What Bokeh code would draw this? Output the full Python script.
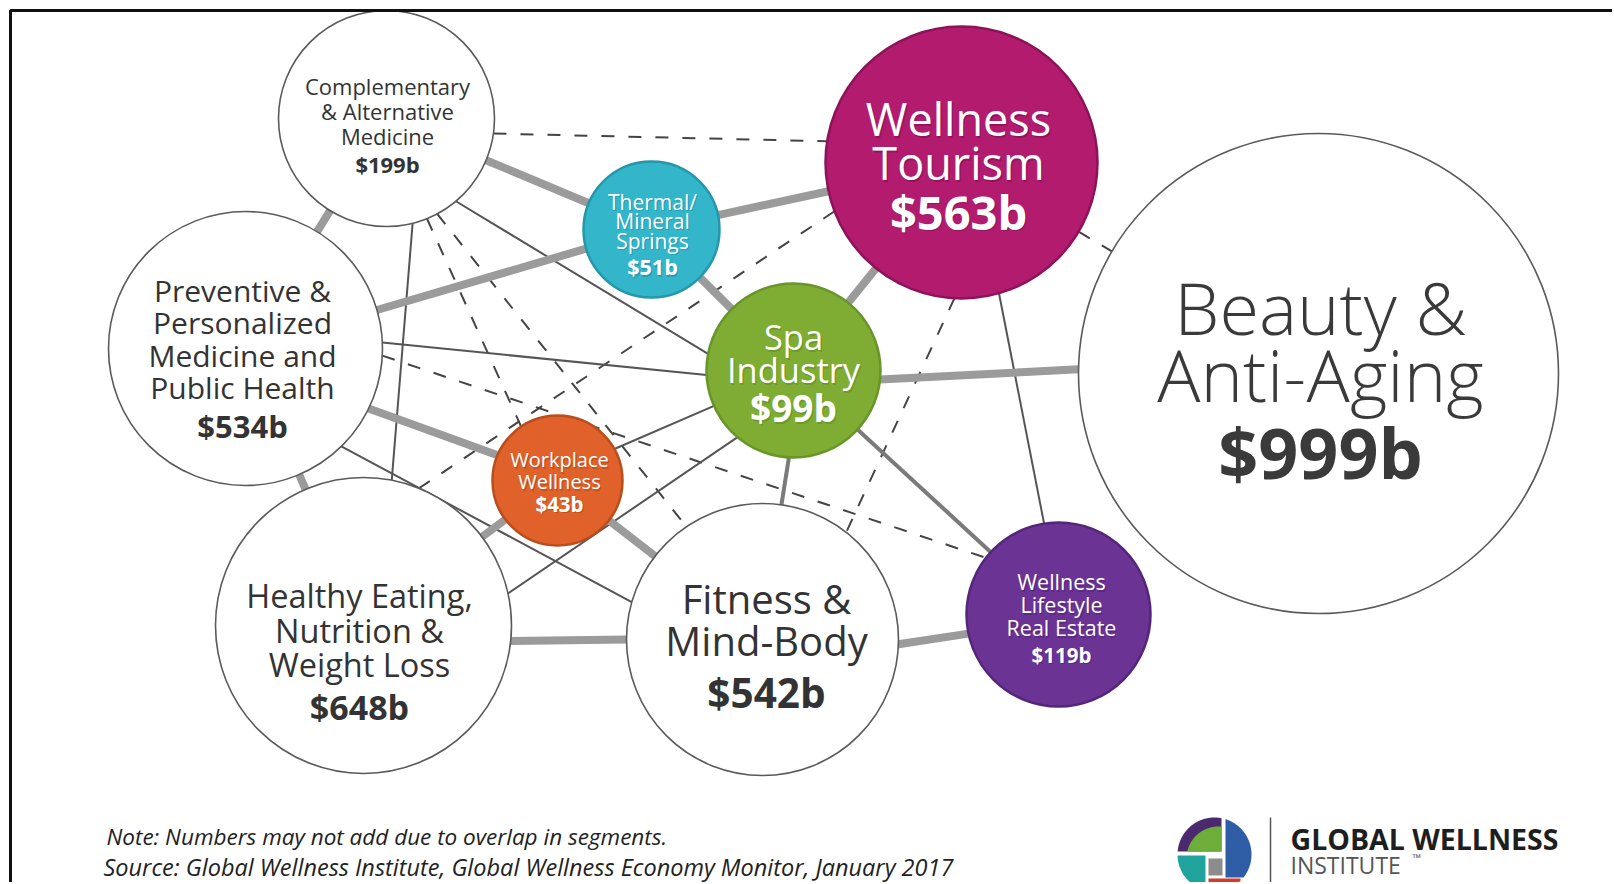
import numpy as np
from bokeh.plotting import figure
from bokeh.models import Range1d
from bokeh.core.properties import value
from bokeh.embed import file_html
from bokeh.resources import INLINE

# ---------------- data ----------------
segment_keys = ["CAM", "PPM", "HEN", "FMB", "WLRE", "BAA", "WT", "SPA", "TMS", "WW"]
segment_labels = [
    ["Complementary", "& Alternative", "Medicine"],
    ["Preventive &", "Personalized", "Medicine and", "Public Health"],
    ["Healthy Eating,", "Nutrition &", "Weight Loss"],
    ["Fitness &", "Mind-Body"],
    ["Wellness", "Lifestyle", "Real Estate"],
    ["Beauty &", "Anti-Aging"],
    ["Wellness", "Tourism"],
    ["Spa", "Industry"],
    ["Thermal/", "Mineral", "Springs"],
    ["Workplace", "Wellness"],
]
market_size_bn = [199, 534, 648, 542, 119, 999, 563, 99, 51, 43]

strong_links = [("CAM", "PPM"), ("CAM", "TMS"), ("TMS", "WT"), ("TMS", "SPA"),
                ("PPM", "TMS"), ("WT", "SPA"), ("SPA", "BAA"), ("PPM", "WW"),
                ("PPM", "HEN"), ("WW", "HEN"), ("WW", "FMB"), ("HEN", "FMB"),
                ("FMB", "WLRE")]
moderate_links = [("SPA", "FMB"), ("SPA", "WLRE")]
weak_links = [("CAM", "SPA"), ("CAM", "HEN"), ("PPM", "SPA"), ("PPM", "FMB"),
              ("HEN", "SPA"), ("WW", "SPA"), ("WT", "WLRE")]
potential_links = [("CAM", "WT"), ("CAM", "WW"), ("CAM", "FMB"), ("PPM", "WLRE"),
                   ("HEN", "WT"), ("WT", "FMB"), ("WT", "BAA")]

note_text = "Note: Numbers may not add due to overlap in segments."
source_text = "Source: Global Wellness Institute, Global Wellness Economy Monitor, January 2017"
org_name = ["GLOBAL WELLNESS", "INSTITUTE", "\u2122"]

# ---------------- layout (page pixel space) ----------------
W, H = 1612, 882
node_pos = {
    "CAM": (386, 118, 108), "PPM": (245, 348, 137), "HEN": (363, 625, 148),
    "FMB": (762, 639, 136), "WLRE": (1058, 614, 92), "BAA": (1318, 373, 240),
    "WT": (961, 162, 136), "SPA": (793, 370, 87), "TMS": (651, 229, 68),
    "WW": (557, 480, 65),
}
node_style = {
    "CAM": ("white", "#5a5a5a", "#333333"), "PPM": ("white", "#5a5a5a", "#333333"),
    "HEN": ("white", "#5a5a5a", "#333333"), "FMB": ("white", "#5a5a5a", "#333333"),
    "BAA": ("white", "#5a5a5a", "#3a3a3a"),
    "WLRE": ("#6B3394", "#54267A", "white"), "WT": ("#B31B6F", "#8C1357", "white"),
    "SPA": ("#7FAD33", "#67952A", "white"), "TMS": ("#33B6CA", "#2497AA", "white"),
    "WW": ("#E0622A", "#BA4D1C", "white"),
}
# (label size, value size, line offsets, value offset, dx)
text_layout = {
    "CAM": (22, 22, [-33, -8, 17], 45, 1),
    "PPM": (30, 31, [-58, -26, 7, 39], 77, -3),
    "HEN": (32.5, 34, [-30, 5, 39], 81, -4),
    "FMB": (40, 40.5, [-41, 1], 53, 4),
    "WLRE": (21.5, 20.5, [-33, -10, 13], 40, 3),
    "BAA": (72, 70, [-67, 0], 78, 2),
    "WT": (45, 47, [-44, 0], 49, -3),
    "SPA": (34.5, 37, [-34, -1], 37, 0),
    "TMS": (21, 21.5, [-28, -9, 11], 37, 1),
    "WW": (20, 20.5, [-21, 1], 23, 2),
}
anchor_deg = {
    ("SPA", "BAA"): (6, 181), ("PPM", "WW"): (26, None), ("HEN", "FMB"): (6, 180),
    ("FMB", "WLRE"): (2, 168), ("SPA", "FMB"): (93, -82),
    ("CAM", "SPA"): (50, 191), ("CAM", "HEN"): (76, -79), ("PPM", "SPA"): (-2.5, 177),
    ("PPM", "FMB"): (45.6, 196), ("HEN", "SPA"): (-12.5, 130), ("WW", "SPA"): (-29, 156),
    ("WT", "WLRE"): (74, -99), ("CAM", "WT"): (8, 189), ("CAM", "WW"): (68, 236),
    ("CAM", "FMB"): (62, 236), ("PPM", "WLRE"): (3, 218), ("HEN", "WT"): (-68, 159),
    ("WT", "FMB"): (93, -52),
}

FONT = "Open Sans"
LIGHT_FONT = "Open Sans Light"

p = figure(width=W, height=H, x_range=Range1d(0, W), y_range=Range1d(H, 0),
           output_backend="svg", toolbar_location=None, min_border=0,
           x_axis_location=None, y_axis_location=None)
p.grid.visible = False
p.outline_line_color = None
p.background_fill_color = "white"


def endpoints(links):
    x0, y0, x1, y1 = [], [], [], []
    for a, b in links:
        ax, ay, ar = node_pos[a]
        bx, by, br = node_pos[b]
        base = np.degrees(np.arctan2(by - ay, bx - ax))
        aa, ab = anchor_deg.get((a, b), (None, None))
        aa = base if aa is None else aa
        ab = base + 180 if ab is None else ab
        x0.append(ax + ar * np.cos(np.radians(aa)))
        y0.append(ay + ar * np.sin(np.radians(aa)))
        x1.append(bx + br * np.cos(np.radians(ab)))
        y1.append(by + br * np.sin(np.radians(ab)))
    return dict(x0=x0, y0=y0, x1=x1, y1=y1)


e = endpoints(potential_links)
p.segment(e["x0"], e["y0"], e["x1"], e["y1"], line_color="#444444", line_width=2,
          line_dash="13 14")
e = endpoints(weak_links)
p.segment(e["x0"], e["y0"], e["x1"], e["y1"], line_color="#555555", line_width=2)
e = endpoints(moderate_links)
p.segment(e["x0"], e["y0"], e["x1"], e["y1"], line_color="#7a7a7a", line_width=4)
e = endpoints(strong_links)
p.segment(e["x0"], e["y0"], e["x1"], e["y1"], line_color="#9b9b9b", line_width=8)

# circles
cx = [node_pos[k][0] for k in segment_keys]
cy = [node_pos[k][1] for k in segment_keys]
cr = [node_pos[k][2] for k in segment_keys]
fills = [node_style[k][0] for k in segment_keys]
edges = [node_style[k][1] for k in segment_keys]
widths = [1.6 if node_style[k][0] == "white" else 2.5 for k in segment_keys]
p.circle(x=cx, y=cy, radius=cr, fill_color=fills, line_color=edges, line_width=widths)

# labels
for k, lines, v in zip(segment_keys, segment_labels, market_size_bn):
    x, y, r = node_pos[k]
    lsz, vsz, offs, voff, dx = text_layout[k]
    fill, edge, tcol = node_style[k]
    lab_font = LIGHT_FONT if k == "BAA" else FONT
    ys = [y + o for o in offs]
    if tcol == "white":
        p.text(x=[x + dx + 1.2] * len(lines), y=[yy + 1.5 for yy in ys], text=lines,
               text_font=value(lab_font), text_font_size="%spx" % lsz,
               text_align="center", text_baseline="middle", text_color=edge, text_alpha=0.8)
        p.text(x=[x + dx + 1.2], y=[y + voff + 1.5], text=["$%db" % v],
               text_font=value(FONT), text_font_size="%spx" % vsz, text_font_style="bold",
               text_align="center", text_baseline="middle", text_color=edge, text_alpha=0.8)
    p.text(x=[x + dx] * len(lines), y=ys, text=lines, text_font=value(lab_font),
           text_font_size="%spx" % lsz, text_align="center", text_baseline="middle",
           text_color=tcol)
    p.text(x=[x + dx], y=[y + voff], text=["$%db" % v], text_font=value(FONT),
           text_font_size="%spx" % vsz, text_font_style="bold", text_align="center",
           text_baseline="middle", text_color=tcol)

# frame lines
p.line([10, 10, W], [H, 10, 10], line_color="#111111", line_width=3)

# notes
p.text(x=[106], y=[836], text=[note_text], text_font=value(FONT),
       text_font_size="22.5px", text_font_style="italic", text_align="left",
       text_baseline="middle", text_color="#222222")
p.text(x=[103], y=[866], text=[source_text], text_font=value(FONT),
       text_font_size="23.5px", text_font_style="italic", text_align="left",
       text_baseline="middle", text_color="#222222")


# logo
def clip_circle_rect(cxx, cyy, r, x0, x1, y0, y1):
    th = np.linspace(0, 2 * np.pi, 721)
    px = cxx + r * np.cos(th)
    py = cyy + r * np.sin(th)
    m = (px >= x0) & (px <= x1) & (py >= y0) & (py <= y1)
    pts = list(zip(px[m], py[m]))
    x0c, x1c = max(x0, cxx - r), min(x1, cxx + r)
    y0c, y1c = max(y0, cyy - r), min(y1, cyy + r)
    for t in np.linspace(0, 1, 120):
        for qx, qy in [(x0c + (x1c - x0c) * t, y0c), (x0c + (x1c - x0c) * t, y1c),
                       (x0c, y0c + (y1c - y0c) * t), (x1c, y0c + (y1c - y0c) * t)]:
            if (qx - cxx) ** 2 + (qy - cyy) ** 2 <= r * r + 1e-6:
                pts.append((qx, qy))
    pts = np.array(pts)
    mx, my = pts.mean(axis=0)
    o = np.argsort(np.arctan2(pts[:, 1] - my, pts[:, 0] - mx))
    return list(pts[o, 0]), list(pts[o, 1])


LX, LY, LR = 1214, 854, 37
pieces = [
    (clip_circle_rect(LX, LY, LR, 0, 1221, 0, 851), "#4A2A6C"),
    (clip_circle_rect(LX + 4, LY + 4, 32, 0, 1221, 0, 851), "#6DAE3A"),
    (clip_circle_rect(LX, LY, LR, 1225, 9999, 0, 877), "#2E5DA6"),
    (clip_circle_rect(LX, LY, LR, 0, 1205, 855, 9999), "#1FA39C"),
    (clip_circle_rect(LX, LY, LR, 1208, 1240, 878, 9999), "#D23B2E"),
    (clip_circle_rect(LX, LY, 60, 1208, 1222, 858, 875), "#8C8C8C"),
]
p.patches([pc[0][0] for pc in pieces], [pc[0][1] for pc in pieces],
          fill_color=[pc[1] for pc in pieces], line_color=None)
p.line([1270, 1270], [817, H], line_color="#555555", line_width=1.5)
p.text(x=[1290], y=[838], text=[org_name[0]], text_font=value(FONT), text_font_size="28.5px",
       text_font_style="bold", text_align="left", text_baseline="middle", text_color="#1e1e1e")
p.text(x=[1290], y=[864], text=[org_name[1]], text_font=value(FONT), text_font_size="23px",
       text_align="left", text_baseline="middle", text_color="#555555")
p.text(x=[1412], y=[857], text=[org_name[2]], text_font=value(FONT), text_font_size="11px",
       text_align="left", text_baseline="middle", text_color="#555555")

open("out.html", "w").write(file_html(p, INLINE))
